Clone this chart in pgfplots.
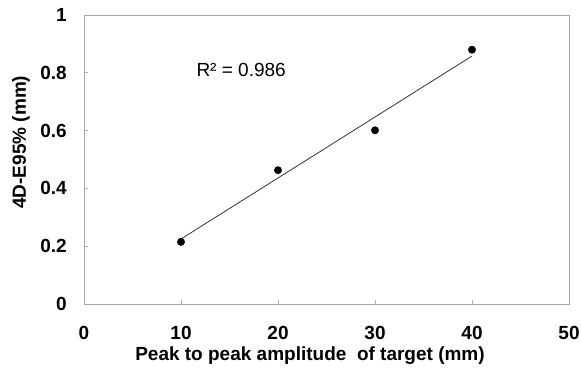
\documentclass[border=0pt]{standalone}
\usepackage{pgfplots}
\pgfplotsset{compat=1.18}
\usepackage{fontspec}
\setmainfont{Liberation Sans}
\begin{document}
\begin{tikzpicture}[x=1bp,y=1bp]
\useasboundingbox (-84,-64) rectangle (497,304);
\begin{axis}[
  at={(0,0)}, anchor=south west,
  scale only axis,
  width=485bp, height=289bp,
  xmin=0, xmax=50, ymin=0, ymax=1,
  xtick={0,10,20,30,40,50},
  ytick={0,0.2,0.4,0.6,0.8,1},
  yticklabels={0,0.2,0.4,0.6,0.8,1},
  xticklabels={0,10,20,30,40,50},
  axis line style={draw=gray!70, line width=0.9bp},
  tick style={draw=gray!60, line width=0.7bp},
  major tick length=4bp,
  tick align=inside,
  xtick pos=bottom, ytick pos=left,
  tick label style={font=\fontsize{19bp}{22bp}\selectfont\bfseries, inner sep=0pt},
  xticklabel style={anchor=north, yshift=-22bp},
  yticklabel style={anchor=east, xshift=-17bp},
  xlabel={Peak to peak amplitude\ \ of target (mm)},
  ylabel={4D-E95\% (mm)},
  label style={font=\fontsize{19bp}{22bp}\selectfont\bfseries, inner sep=0pt},
  xlabel style={at={(axis description cs:0.466,-0.197)}, anchor=base},
  ylabel style={at={(axis description cs:-0.1196,0.56)}, anchor=base},
  /pgf/number format/assume math mode=true,
]
\addplot[no marks, draw=black!80, line width=0.8bp] coordinates {(10,0.225) (40,0.858)};
\addplot[only marks, mark=*, mark size=3.7bp, black] coordinates {
(10,0.215) (20,0.463) (30,0.601) (40,0.880)};
\node[font=\fontsize{19bp}{22bp}\selectfont] at (axis cs:16.2,0.81) {R² = 0.986};
\end{axis}
\end{tikzpicture}
\end{document}
